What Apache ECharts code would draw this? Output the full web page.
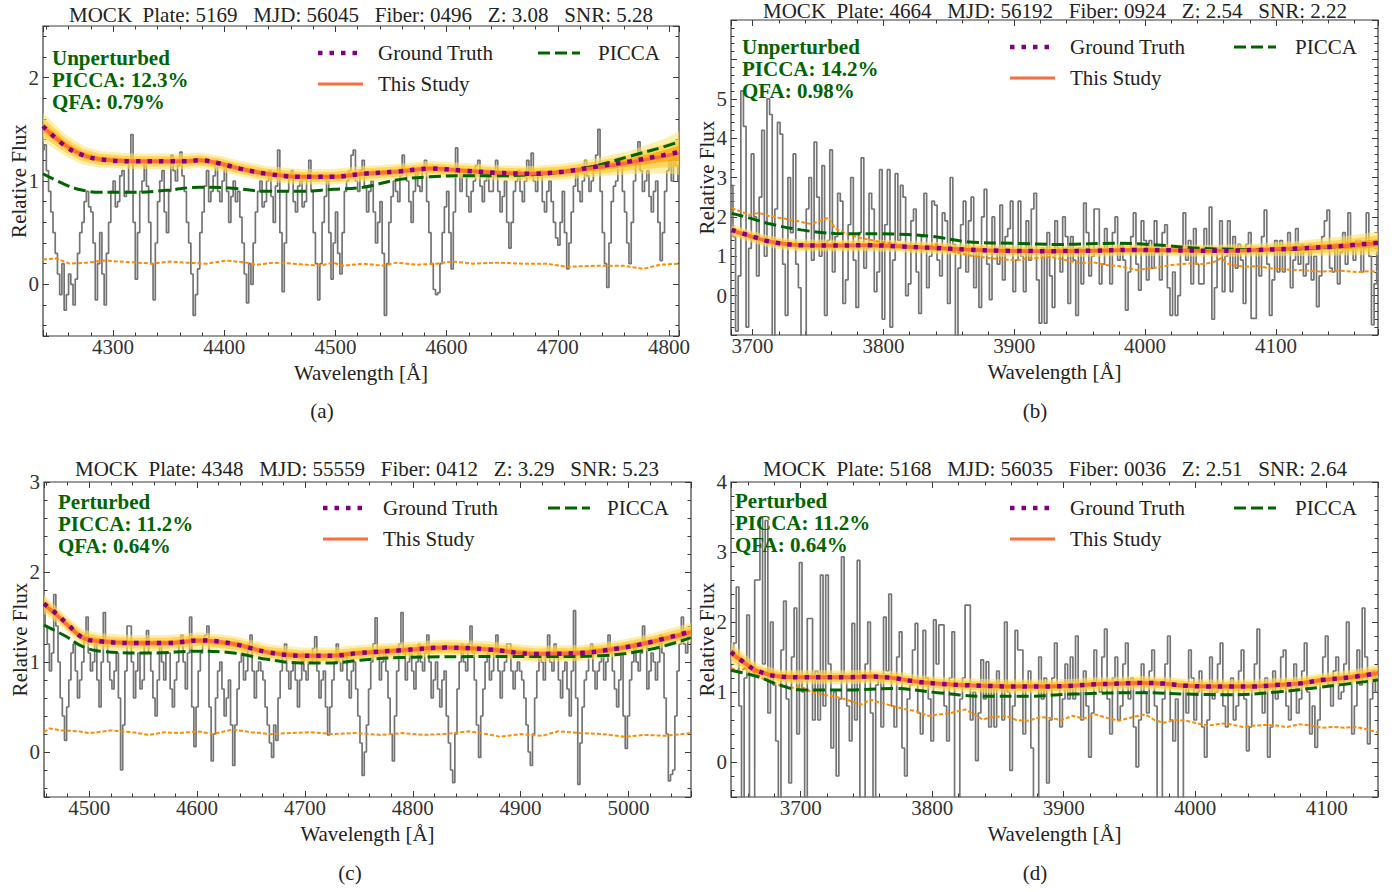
<!DOCTYPE html>
<html><head><meta charset="utf-8">
<script src="https://cdn.jsdelivr.net/npm/echarts@6/dist/echarts.min.js"></script>
<style>html,body{margin:0;padding:0;background:#fff}#chart{width:1397px;height:892px}</style>
</head><body><div id="chart"></div>
<script>
// ---------------- Panel (a) ----------------
const aFluxStart = 4237, aFluxStep = 2;
const aFlux = [
1.3,1.35,1.1,0.9,0.7,0.5,0.3,0.1,-0.1,0.2,
-0.25,-0.1,0.1,0.0,-0.2,0.05,0.3,0.5,0.6,0.8,
0.9,0.75,0.7,0.4,-0.15,0.2,0.5,0.1,-0.2,0.3,
0.6,0.9,1.0,0.75,0.8,1.05,1.1,0.85,0.9,1.2,
1.45,0.6,0.05,0.5,0.9,1.0,1.2,0.95,0.6,0.2,
-0.15,0.4,0.8,1.0,1.1,0.7,0.5,0.9,1.25,1.1,
1.0,1.15,1.28,1.05,0.9,0.6,0.4,0.1,-0.3,-0.1,
0.15,0.5,0.7,0.95,1.1,0.8,0.9,1.05,1.2,0.9,
0.8,1.0,1.15,0.9,0.6,0.85,1.0,0.8,0.9,0.65,
0.4,0.1,-0.18,0.2,0.0,0.4,0.7,0.9,1.0,0.75,
0.8,1.0,1.1,0.85,0.6,0.95,1.3,0.5,-0.07,0.4,
0.9,1.05,1.1,0.8,0.7,0.95,1.0,0.75,0.8,1.05,
1.2,0.9,0.5,0.2,-0.15,0.2,0.6,0.85,1.0,0.5,
0.05,0.4,0.7,0.3,0.1,0.5,0.9,1.0,1.1,1.25,
1.3,1.0,0.9,1.1,1.2,0.95,0.7,0.9,1.0,0.7,
0.4,0.6,0.8,0.3,-0.3,0.2,0.6,0.85,1.0,0.9,
0.8,1.05,1.25,1.1,1.0,0.8,0.6,0.9,1.1,0.95,
0.9,1.1,1.2,0.8,0.5,0.2,-0.05,-0.1,-0.08,0.2,
0.5,0.75,0.9,0.5,0.15,0.7,1.32,1.1,0.9,1.05,
1.1,0.85,0.7,0.9,1.0,1.15,1.2,0.95,0.8,1.0,
1.1,0.9,0.9,1.05,1.2,0.9,0.7,0.85,1.0,0.6,
0.35,0.6,0.9,1.0,1.1,0.9,0.8,1.0,1.2,1.1,
1.27,1.0,0.9,1.05,1.1,0.8,0.7,0.9,1.0,0.8,
0.6,0.45,0.38,0.6,0.9,0.5,0.15,0.4,0.7,0.95,
1.1,0.9,0.8,1.0,1.2,1.05,0.9,1.0,1.1,1.25,
1.5,0.9,0.5,0.2,-0.03,0.4,0.8,0.95,1.0,1.15,
1.2,0.9,0.7,0.4,0.2,0.6,1.0,1.2,1.38,1.1,
0.9,1.0,1.1,0.85,0.7,0.9,1.0,0.6,0.23,0.5,
0.9,1.1,1.2,1.0,1.3,1.15,1.0];
const aCurveLambda = [4237,4258,4273,4288,4318,4363,4378,4396,4414,4438,4468,4498,4525,4555,4585,4615,4645,4675,4705,4735,4765,4795,4809];
const aTruth = [1.53,1.33,1.25,1.21,1.19,1.19,1.20,1.17,1.12,1.07,1.04,1.04,1.07,1.09,1.12,1.10,1.08,1.07,1.09,1.14,1.19,1.25,1.28];
const aStudy = [1.52,1.34,1.25,1.21,1.19,1.19,1.20,1.17,1.12,1.07,1.04,1.04,1.07,1.09,1.12,1.10,1.08,1.07,1.09,1.13,1.18,1.24,1.27];
const aSigma = [0.045,0.035,0.03,0.027,0.025,0.025,0.025,0.025,0.025,0.025,0.025,0.025,0.025,0.025,0.025,0.025,0.025,0.025,0.026,0.03,0.038,0.055,0.07];
const aPiccaLambda = [4237,4258,4273,4288,4318,4348,4378,4408,4438,4468,4498,4525,4555,4585,4615,4645,4675,4705,4735,4765,4795,4809];
const aPicca = [1.07,0.96,0.91,0.89,0.89,0.91,0.94,0.93,0.90,0.90,0.92,0.94,1.01,1.04,1.05,1.05,1.06,1.09,1.15,1.24,1.33,1.38];
const aNoiseLambda = [4237,4249,4261,4276,4291,4306,4321,4336,4351,4366,4384,4402,4420,4429,4444,4462,4486,4498,4507,4525,4543,4555,4573,4591,4606,4624,4645,4669,4690,4708,4735,4759,4777,4792,4809];
const aNoise = [0.24,0.25,0.2,0.21,0.23,0.22,0.21,0.2,0.22,0.21,0.2,0.23,0.21,0.19,0.21,0.2,0.18,0.21,0.18,0.2,0.18,0.21,0.19,0.2,0.22,0.2,0.21,0.2,0.2,0.17,0.18,0.18,0.15,0.19,0.2];

// ---------------- Panel (b) ----------------
const bFluxStart = 3684, bFluxStep = 2;
const bFlux = [
2.8,1.5,-0.9,0.5,5.2,4.3,-0.8,1.2,3.6,2.0,
0.5,2.5,4.2,1.0,5.0,4.6,-1.2,2.2,4.4,4.1,
0.8,-0.5,3.0,1.6,3.6,0.8,0.2,-1.2,-1.2,2.2,
3.0,0.9,3.9,2.5,1.0,3.3,-0.5,1.4,3.7,0.6,
1.5,2.6,2.4,-0.2,0.4,1.8,3.0,0.9,-0.3,1.6,
3.5,0.7,1.2,2.6,2.2,0.1,0.6,3.2,-0.6,1.8,
3.2,-0.8,0.9,3.1,1.4,2.8,2.5,0.0,0.3,1.9,
2.2,0.6,-0.45,1.5,2.6,0.2,1.0,2.4,2.3,0.9,
0.5,2.1,1.9,-0.2,3.0,1.3,-1.2,0.7,1.8,2.4,
0.6,1.9,2.5,0.2,1.2,-0.3,2.0,2.7,0.8,-0.1,
2.0,1.1,0.8,2.3,0.4,1.5,1.7,2.4,0.1,0.9,
2.4,1.0,0.1,1.9,0.9,2.2,2.6,0.4,-0.7,1.2,
-0.7,1.6,0.5,-0.3,1.9,1.2,0.6,2.0,1.5,-0.2,
1.5,0.9,-0.5,1.2,0.3,2.35,1.6,0.5,1.0,2.2,
2.2,0.3,0.8,1.7,1.1,0.3,1.6,2.0,0.9,1.3,
0.9,-0.37,0.6,1.5,2.1,0.8,0.14,1.9,1.4,0.4,
1.4,0.7,1.9,1.2,0.4,1.6,1.8,0.2,-0.5,0.6,
-0.5,0.0,1.1,2.1,0.9,1.4,0.3,1.7,0.8,0.3,
0.3,1.7,1.2,2.25,-0.6,0.2,1.2,1.9,0.1,1.0,
1.9,0.1,1.5,0.7,1.3,0.9,-0.2,1.3,1.6,-0.58,
-0.58,1.1,0.5,1.5,2.17,0.8,-0.5,0.4,1.4,0.6,
1.4,0.6,1.2,1.6,0.2,0.9,1.7,0.8,1.3,0.5,
0.8,1.3,0.4,1.0,-0.28,0.5,1.5,1.9,2.17,0.7,
0.6,1.3,0.3,1.1,1.6,0.8,2.1,1.2,0.9,1.4,
1.4,0.6,1.2,2.1,1.0,-0.74,0.3,1.1];
const bCurveLambda = [3684,3700,3712,3725,3737,3760,3787,3813,3838,3864,3889,3931,3960,3991,4020,4055,4085,4118,4150,4178];
const bTruth = [1.67,1.50,1.38,1.31,1.28,1.27,1.28,1.25,1.21,1.17,1.14,1.13,1.14,1.16,1.15,1.14,1.16,1.20,1.26,1.34];
const bStudy = [1.66,1.49,1.38,1.31,1.28,1.27,1.28,1.25,1.21,1.17,1.14,1.13,1.14,1.16,1.15,1.14,1.16,1.20,1.26,1.33];
const bSigma = [0.05,0.05,0.05,0.05,0.05,0.05,0.05,0.05,0.05,0.05,0.05,0.05,0.05,0.05,0.05,0.05,0.055,0.065,0.08,0.1];
const bPiccaLambda = [3684,3700,3712,3737,3763,3813,3838,3864,3900,3935,3978,4016,4042,4093,4144,4178];
const bPicca = [2.09,1.95,1.83,1.67,1.58,1.56,1.50,1.37,1.33,1.30,1.33,1.27,1.20,1.17,1.24,1.34];
const bNoiseLambda = [3684,3690,3697,3705,3712,3720,3725,3733,3740,3745,3750,3758,3763,3770,3776,3785,3795,3801,3810,3820,3826,3835,3840,3850,3864,3874,3882,3892,3902,3915,3928,3940,3951,3960,3969,3980,3994,4006,4020,4035,4045,4053,4058,4064,4076,4086,4096,4110,4122,4134,4150,4162,4172,4178];
const bNoise = [2.22,2.15,2.05,2.1,2.03,1.98,1.95,1.9,1.85,1.82,1.88,1.98,1.7,1.6,1.52,1.45,1.38,1.35,1.3,1.25,1.23,1.24,1.3,1.15,1.03,0.98,0.95,0.92,0.9,0.95,0.98,0.9,0.82,0.85,0.78,0.75,0.65,0.7,0.78,0.82,0.8,0.86,0.95,0.8,0.73,0.75,0.69,0.66,0.64,0.61,0.63,0.6,0.62,0.61];

// ---------------- Panel (c) ----------------
const cFluxStart = 4458, cFluxStep = 2;
const cFlux = [
1.6,1.4,1.2,0.9,1.1,1.75,1.4,1.0,0.6,0.4,
0.13,0.5,0.8,1.1,1.2,0.9,0.6,0.8,1.0,1.3,
1.5,1.1,0.9,1.0,1.2,0.8,0.5,1.0,1.55,1.2,
1.0,0.8,0.7,0.9,1.1,0.6,-0.2,0.3,0.9,1.4,
1.4,1.0,0.6,0.9,1.1,0.7,0.8,1.2,1.35,1.1,
0.9,0.6,0.4,0.8,1.2,1.0,0.8,1.1,1.1,0.7,
0.5,0.8,1.0,1.2,1.3,1.0,0.7,1.1,1.5,0.5,
0.06,0.5,0.9,1.1,1.2,1.3,1.4,0.5,-0.1,0.2,
0.6,0.9,1.0,0.7,0.4,0.6,0.8,0.3,-0.15,0.3,
0.7,1.0,1.1,0.8,0.9,1.2,1.3,0.9,0.6,0.9,
1.0,0.9,0.8,0.5,0.3,0.1,-0.06,0.3,0.13,0.6,
0.9,1.1,1.2,0.9,0.7,0.9,1.0,0.8,0.5,0.8,
1.1,0.9,0.8,1.0,1.0,1.15,1.28,0.9,0.6,0.8,
0.9,0.5,0.19,0.5,0.8,1.0,1.2,1.0,0.9,1.05,
1.1,0.8,0.6,0.9,1.0,0.7,0.4,0.1,-0.26,0.0,
0.3,0.7,1.0,1.2,1.49,1.1,0.8,1.0,1.1,0.9,
0.6,0.2,-0.1,0.4,0.9,1.2,1.55,1.1,0.8,1.0,
1.1,0.9,0.7,1.0,1.2,1.0,0.9,1.1,1.3,1.0,
0.6,0.8,1.0,0.7,0.5,0.8,0.9,0.4,0.1,-0.2,
-0.34,0.2,0.7,1.0,1.2,1.0,0.9,1.2,1.4,1.1,
0.8,0.3,-0.06,0.4,0.7,1.0,1.1,0.8,0.9,1.1,
1.3,0.9,0.6,0.9,1.0,1.2,1.2,0.9,0.7,0.9,
1.0,0.9,0.8,0.6,0.3,0.0,-0.15,0.2,0.6,0.9,
1.1,1.0,0.8,1.1,1.3,1.0,0.9,1.2,1.1,0.8,
0.6,0.9,1.0,0.7,0.4,0.9,1.57,0.6,-0.36,0.1,
0.5,0.8,0.9,1.1,1.2,0.9,0.7,0.9,1.0,1.1,
0.8,1.0,1.3,1.1,0.9,0.7,0.5,0.8,1.1,0.4,
0.04,0.4,0.8,1.0,1.2,1.0,0.9,1.1,1.4,1.2,
0.7,0.9,1.1,1.0,0.8,1.0,1.3,1.1,0.6,0.2,
-0.32,-0.25,-0.2,0.4,0.9,1.2,1.5,1.2,1.1,1.3,
1.3];
const cCurveLambda = [4458,4470,4479,4494,4510,4541,4572,4603,4634,4665,4696,4726,4750,4790,4831,4870,4914,4955,4990,5020,5058];
const cTruth = [1.65,1.53,1.43,1.27,1.23,1.21,1.21,1.24,1.20,1.11,1.07,1.07,1.10,1.13,1.16,1.14,1.09,1.10,1.15,1.22,1.34];
const cStudy = [1.64,1.52,1.42,1.27,1.23,1.21,1.21,1.24,1.20,1.11,1.07,1.07,1.10,1.13,1.16,1.14,1.09,1.10,1.15,1.22,1.33];
const cSigma = [0.035,0.03,0.03,0.03,0.03,0.03,0.03,0.03,0.03,0.03,0.03,0.03,0.03,0.03,0.03,0.03,0.03,0.03,0.03,0.03,0.035];
const cPiccaLambda = [4458,4479,4494,4510,4556,4603,4634,4665,4696,4726,4751,4790,4872,4930,4974,5020,5058];
const cPicca = [1.41,1.28,1.17,1.12,1.10,1.12,1.10,1.03,0.99,0.99,1.02,1.05,1.06,1.06,1.07,1.14,1.27];
const cNoiseLambda = [4458,4463,4475,4490,4500,4520,4540,4555,4570,4583,4600,4615,4633,4650,4668,4686,4705,4725,4748,4770,4790,4810,4830,4852,4868,4881,4900,4920,4935,4955,4975,4997,5015,5035,5058];
const cNoise = [0.22,0.26,0.24,0.23,0.21,0.24,0.22,0.19,0.22,0.21,0.23,0.2,0.25,0.22,0.2,0.21,0.22,0.2,0.21,0.19,0.21,0.19,0.2,0.23,0.2,0.17,0.2,0.18,0.23,0.21,0.2,0.17,0.19,0.18,0.21];

// ---------------- Panel (d) ----------------
const dFluxStart = 3648, dFluxStep = 2;
const dFlux = [
1.5,1.7,2.5,0.8,-0.8,1.2,2.1,-0.8,-0.8,2.6,
2.6,3.5,1.4,3.45,0.7,2.0,1.1,0.3,-0.6,1.6,
2.3,0.9,-0.3,1.5,2.2,0.4,2.85,1.0,-0.8,2.05,
2.05,0.6,1.3,0.6,2.67,0.8,2.67,1.4,0.2,1.0,
-0.2,0.9,2.93,1.2,0.8,0.3,1.98,0.6,2.88,-0.8,
-0.8,1.4,2.0,0.7,-0.8,1.1,1.2,0.5,2.07,1.3,
2.4,0.8,0.5,1.5,1.86,0.2,-0.2,0.9,1.1,1.6,
1.98,0.7,0.4,1.88,1.2,0.9,0.3,2.03,1.4,1.96,
1.96,0.8,0.3,1.2,1.86,-0.8,-0.8,0.9,1.2,2.24,
2.24,0.6,1.0,0.02,0.7,1.46,0.9,1.43,0.5,1.1,
0.5,1.3,1.1,0.6,2.0,1.0,-0.12,0.8,1.88,1.6,
1.6,0.4,1.1,1.3,0.2,-0.8,-0.8,1.5,0.9,1.2,
-0.3,0.6,1.2,1.7,1.1,0.5,0.9,1.4,0.9,1.5,
0.9,1.8,1.1,0.6,1.3,0.8,0.07,0.7,1.6,1.1,
1.0,1.5,1.9,0.9,0.4,1.2,1.5,0.6,0.8,1.4,
1.7,0.9,1.2,0.5,-0.07,0.6,1.4,1.0,0.7,1.3,
1.6,0.8,-0.8,-0.8,0.9,1.4,1.8,0.6,0.3,0.9,
-0.8,-0.8,1.1,0.7,1.6,1.2,0.6,1.0,1.3,0.5,
0.07,0.6,1.5,0.9,1.0,1.4,1.7,0.8,0.5,1.1,
1.2,0.6,0.8,1.3,1.6,0.9,0.16,0.5,1.1,1.4,
1.9,1.0,0.7,1.2,0.07,0.5,1.3,0.9,1.0,1.5,
1.6,0.8,0.6,1.1,1.4,0.7,0.9,1.3,1.7,1.0,
0.4,0.8,0.21,0.6,1.2,1.5,1.8,1.1,0.8,1.3,
1.5,0.9,1.0,1.4,2.0,1.2,0.4,0.8,1.6,1.1,
2.2,1.5,0.26,0.9,1.3,1.0];
const dCurveLambda = [3647,3660,3667,3684,3700,3718,3735,3753,3770,3787,3804,3821,3838,3856,3873,3890,3907,3924,3942,3959,3976,3993,4010,4027,4045,4062,4079,4096,4118,4139];
const dTruth = [1.57,1.38,1.30,1.22,1.21,1.21,1.21,1.22,1.20,1.15,1.12,1.10,1.09,1.08,1.08,1.08,1.09,1.11,1.12,1.13,1.12,1.09,1.08,1.08,1.08,1.10,1.12,1.17,1.21,1.27];
const dStudy = [1.56,1.38,1.30,1.22,1.21,1.21,1.21,1.22,1.20,1.15,1.12,1.10,1.09,1.08,1.08,1.08,1.09,1.11,1.12,1.13,1.12,1.09,1.08,1.08,1.08,1.10,1.12,1.17,1.21,1.27];
const dSigma = [0.05,0.04,0.036,0.033,0.033,0.033,0.033,0.033,0.033,0.033,0.033,0.033,0.033,0.033,0.033,0.033,0.033,0.033,0.033,0.033,0.033,0.033,0.033,0.033,0.033,0.033,0.033,0.033,0.035,0.04];
const dPiccaLambda = [3647,3667,3684,3701,3735,3770,3804,3838,3873,3907,3959,3993,4027,4062,4096,4139];
const dPicca = [1.31,1.22,1.10,1.03,1.03,1.05,0.99,0.94,0.94,0.97,0.99,0.97,0.96,1.00,1.07,1.17];
const dNoiseLambda = [3647,3654,3660,3665,3670,3677,3684,3694,3700,3708,3718,3727,3735,3746,3753,3762,3770,3778,3787,3797,3805,3814,3825,3832,3838,3846,3856,3864,3873,3882,3890,3898,3907,3915,3924,3933,3942,3952,3962,3969,3976,3985,3993,4002,4010,4020,4027,4036,4045,4054,4062,4070,4079,4088,4096,4105,4113,4122,4130,4139];
const dNoise = [1.34,1.3,1.36,1.28,1.2,1.15,1.1,1.06,1.08,1.0,0.96,0.93,0.89,0.82,0.89,0.84,0.8,0.76,0.73,0.66,0.68,0.7,0.75,0.68,0.61,0.64,0.66,0.6,0.59,0.64,0.63,0.6,0.66,0.62,0.68,0.63,0.59,0.64,0.68,0.6,0.56,0.6,0.59,0.55,0.52,0.55,0.54,0.5,0.52,0.53,0.52,0.5,0.54,0.52,0.49,0.5,0.49,0.5,0.47,0.42];

// ---------------- Text ----------------
const titles = [
  'MOCK  Plate: 5169   MJD: 56045   Fiber: 0496   Z: 3.08   SNR: 5.28',
  'MOCK  Plate: 4664   MJD: 56192   Fiber: 0924   Z: 2.54   SNR: 2.22',
  'MOCK  Plate: 4348   MJD: 55559   Fiber: 0412   Z: 3.29   SNR: 5.23',
  'MOCK  Plate: 5168   MJD: 56035   Fiber: 0036   Z: 2.51   SNR: 2.64'
];
const annotations = [
  ['Unperturbed','PICCA: 12.3%','QFA: 0.79%'],
  ['Unperturbed','PICCA: 14.2%','QFA: 0.98%'],
  ['Perturbed','PICCA: 11.2%','QFA: 0.64%'],
  ['Perturbed','PICCA: 11.2%','QFA: 0.64%']
];
const captions = ['(a)','(b)','(c)','(d)'];
const legendNames = ['Ground Truth','PICCA','This Study'];

// ---------------- Layout ----------------
const FONT = '"Liberation Serif", "Times New Roman", serif';
const panels = [
  {grid:{left:43,top:26,width:636,height:310}, x:[4237,4809], y:[-0.5,2.5], xs:6, xms:28, ys:3, yms:15, yl:[0,2],
   fs:aFluxStart, fst:aFluxStep, flux:aFlux, cl:aCurveLambda, truth:aTruth, study:aStudy, sig:aSigma, pl:aPiccaLambda, picca:aPicca, nl:aNoiseLambda, noise:aNoise,
   title:[361,15], ann:[52,58], leg:[318,53,538,598], cap:[322,411]},
  {grid:{left:731,top:20,width:647,height:315}, x:[3683.5,4178], y:[-1,7], xs:5, xms:25, ys:8, yms:40, yl:[0,5],
   fs:bFluxStart, fst:bFluxStep, flux:bFlux, cl:bCurveLambda, truth:bTruth, study:bStudy, sig:bSigma, pl:bPiccaLambda, picca:bPicca, nl:bNoiseLambda, noise:bNoise,
   title:[1055,11], ann:[742,47], leg:[1010,47,1234,1295], cap:[1035,411]},
  {grid:{left:44,top:482,width:647,height:315}, x:[4458,5058], y:[-0.5,3], xs:6, xms:30, ys:3, yms:17, yl:[0,3],
   fs:cFluxStart, fst:cFluxStep, flux:cFlux, cl:cCurveLambda, truth:cTruth, study:cStudy, sig:cSigma, pl:cPiccaLambda, picca:cPicca, nl:cNoiseLambda, noise:cNoise,
   title:[367,469], ann:[58,502], leg:[323,508,548,607], cap:[350,873]},
  {grid:{left:731,top:482,width:647,height:315}, x:[3647,4139], y:[-0.5,4], xs:5, xms:25, ys:4, yms:22, yl:[0,4],
   fs:dFluxStart, fst:dFluxStep, flux:dFlux, cl:dCurveLambda, truth:dTruth, study:dStudy, sig:dSigma, pl:dPiccaLambda, picca:dPicca, nl:dNoiseLambda, noise:dNoise,
   title:[1055,469], ann:[735,501], leg:[1010,508,1234,1295], cap:[1035,873]}
];

const C = {flux:'#747474', truth:'#800080', study:'#ff6d3a', picca:'#006400', noise:'#ff8c00', ann:'#006400', text:'#222'};
const bandCols = ['rgba(255,226,110,0.55)','rgba(255,196,40,0.6)','rgba(255,150,0,0.6)'];
const option = {animation:false, backgroundColor:'#fff', grid:[], xAxis:[], yAxis:[], series:[], graphic:[]};
const labelStyle = {fontFamily:FONT, fontSize:21, color:'#333'};
const zip = (xs, ys) => xs.map((x,i)=>[x, ys[i]]);

panels.forEach((p, g) => {
  option.grid.push(Object.assign({show:true, borderColor:'#3a3a3a', borderWidth:1.2, backgroundColor:'transparent'}, p.grid));
  const xBase = {gridIndex:g, type:'value', min:p.x[0], max:p.x[1], axisLine:{show:false, onZero:false}, splitLine:{show:false}};
  const yBase = {gridIndex:g, type:'value', min:p.y[0], max:p.y[1], axisLine:{show:false, onZero:false}, splitLine:{show:false}};
  const major = {inside:true, length:6, lineStyle:{color:'#3a3a3a', width:1}};
  const minor = {inside:true, length:3.5, lineStyle:{color:'#3a3a3a', width:1}};
  const xi = option.xAxis.length, yi = option.yAxis.length;
  option.xAxis.push(Object.assign({}, xBase, {position:'bottom', splitNumber:p.xs, axisTick:major,
    axisLabel:Object.assign({margin:0, formatter:v => (Math.abs(v % 100) < 1e-6 ? String(v) : '')}, labelStyle),
    name:'Wavelength [Å]', nameLocation:'middle', nameGap:26, nameTextStyle:Object.assign({}, labelStyle, {color:'#222'})}));
  option.xAxis.push(Object.assign({}, xBase, {position:'bottom', splitNumber:p.xms, axisTick:minor, axisLabel:{show:false}}));
  option.xAxis.push(Object.assign({}, xBase, {position:'top', splitNumber:p.xs, axisTick:major, axisLabel:{show:false}}));
  option.xAxis.push(Object.assign({}, xBase, {position:'top', splitNumber:p.xms, axisTick:minor, axisLabel:{show:false}}));
  option.yAxis.push(Object.assign({}, yBase, {position:'left', splitNumber:p.ys, axisTick:major,
    axisLabel:Object.assign({margin:4, formatter:v => (Math.abs(v - Math.round(v)) < 1e-6 && v >= p.yl[0] && v <= p.yl[1] ? String(Math.round(v)) : '')}, labelStyle),
    name:'Relative Flux', nameLocation:'middle', nameGap:14, nameMoveOverlap:false, nameTextStyle:Object.assign({}, labelStyle, {color:'#222'})}));
  option.yAxis.push(Object.assign({}, yBase, {position:'left', splitNumber:p.yms, axisTick:minor, axisLabel:{show:false}}));
  option.yAxis.push(Object.assign({}, yBase, {position:'right', splitNumber:p.ys, axisTick:major, axisLabel:{show:false}}));
  option.yAxis.push(Object.assign({}, yBase, {position:'right', splitNumber:p.yms, axisTick:minor, axisLabel:{show:false}}));

  const ax = {xAxisIndex:xi, yAxisIndex:yi, symbol:'none', silent:true, type:'line'};
  // observed flux (step)
  option.series.push(Object.assign({}, ax, {name:'Flux'+g, step:'middle', z:1,
    data:p.flux.map((v,i)=>[p.fs + p.fst*i, v]), lineStyle:{color:C.flux, width:1.7}}));
  // uncertainty band of this study (3 nested levels), drawn through the axes
  option.series.push({type:'custom', name:'Band'+g, xAxisIndex:xi, yAxisIndex:yi, silent:true, z:2, clip:true,
    data:[[p.cl[0], p.study[0]]],
    renderItem:(params, api) => {
      const children = [3,2,1].map((k, j) => {
        const up = p.cl.map((x,i)=>api.coord([x, p.study[i] + k*p.sig[i]]));
        const lo = p.cl.map((x,i)=>api.coord([x, p.study[i] - k*p.sig[i]])).reverse();
        return {type:'polygon', shape:{points:up.concat(lo)}, style:{fill:bandCols[j]}};
      });
      return {type:'group', children};
    }});
  option.series.push(Object.assign({}, ax, {name:'Noise'+g, z:3, data:zip(p.nl, p.noise),
    lineStyle:{color:C.noise, width:2, type:[4,2]}}));
  option.series.push(Object.assign({}, ax, {name:'PICCA'+g, z:4, smooth:0.4, data:zip(p.pl, p.picca),
    lineStyle:{color:C.picca, width:3, type:[12,5]}}));
  option.series.push(Object.assign({}, ax, {name:'Study'+g, z:5, smooth:0.4, data:zip(p.cl, p.study),
    lineStyle:{color:C.study, width:3.5}}));
  option.series.push(Object.assign({}, ax, {name:'Truth'+g, z:6, smooth:0.4, data:zip(p.cl, p.truth),
    lineStyle:{color:C.truth, width:4.5, type:[4.5,7]}}));

  // texts
  option.graphic.push({type:'text', x:p.title[0], y:p.title[1], z:10, style:{text:titles[g], fontFamily:FONT, fontSize:21, fill:C.text, textAlign:'center', textVerticalAlign:'middle'}});
  annotations[g].forEach((t, i) => option.graphic.push({type:'text', x:p.ann[0], y:p.ann[1] + 22*i, z:10,
    style:{text:t, fontFamily:FONT, fontSize:21, fontWeight:'bold', fill:C.ann, textAlign:'left', textVerticalAlign:'middle'}}));
  option.graphic.push({type:'text', x:p.cap[0], y:p.cap[1], z:10, style:{text:captions[g], fontFamily:FONT, fontSize:21, fill:C.text, textAlign:'center', textVerticalAlign:'middle'}});
  // legend
  const [lx, ly, px, ptx] = p.leg;
  const ly2 = ly + 31;
  option.graphic.push({type:'line', z:10, shape:{x1:lx, y1:ly, x2:lx+45, y2:ly}, style:{stroke:C.truth, lineWidth:4.5, lineDash:[4.5,7]}});
  option.graphic.push({type:'text', x:lx+60, y:ly, z:10, style:{text:legendNames[0], fontFamily:FONT, fontSize:21, fill:C.text, textAlign:'left', textVerticalAlign:'middle'}});
  option.graphic.push({type:'line', z:10, shape:{x1:px, y1:ly, x2:px+42, y2:ly}, style:{stroke:C.picca, lineWidth:3, lineDash:[12,5]}});
  option.graphic.push({type:'text', x:ptx, y:ly, z:10, style:{text:legendNames[1], fontFamily:FONT, fontSize:21, fill:C.text, textAlign:'left', textVerticalAlign:'middle'}});
  option.graphic.push({type:'line', z:10, shape:{x1:lx, y1:ly2, x2:lx+45, y2:ly2}, style:{stroke:C.study, lineWidth:3}});
  option.graphic.push({type:'text', x:lx+60, y:ly2, z:10, style:{text:legendNames[2], fontFamily:FONT, fontSize:21, fill:C.text, textAlign:'left', textVerticalAlign:'middle'}});
});

const chart = echarts.init(document.getElementById('chart'), null, {renderer:'svg', width:1397, height:892});
chart.setOption(option);
</script></body></html>
